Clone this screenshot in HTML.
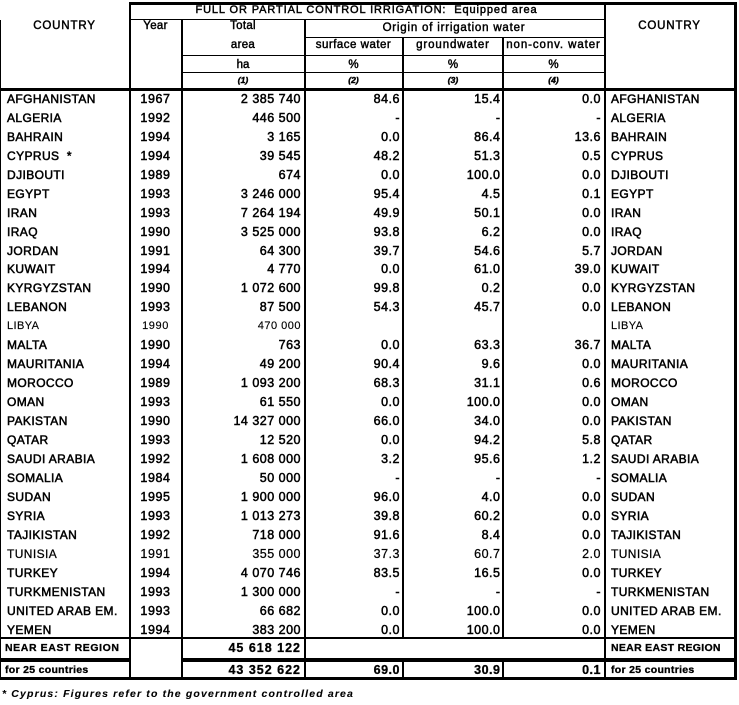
<!DOCTYPE html>
<html><head><meta charset="utf-8">
<style>
html,body{margin:0;padding:0;background:#fff;}
#p{position:relative;width:739px;height:705px;overflow:hidden;background:#fff;font-family:"Liberation Sans",Arial,sans-serif;color:#000;}
.l{position:absolute;background:#000;}
.t{position:absolute;white-space:nowrap;-webkit-text-stroke:0.45px #000;}
.hd{font-size:11.5px;line-height:18px;height:18px;}
.r{position:absolute;left:0;width:739px;height:19px;line-height:19px;font-size:12.5px;}
.r>div{position:absolute;top:0;white-space:nowrap;-webkit-text-stroke:0.5px #000;}
.c0{left:7px;font-size:12px;letter-spacing:.4px;}
.c1{left:130px;width:51px;text-align:center;letter-spacing:.6px;}
.c2{left:183px;width:118px;text-align:right;letter-spacing:.5px;}
.c3{left:305px;width:95px;text-align:right;letter-spacing:.5px;}
.c4{left:405px;width:95.5px;text-align:right;letter-spacing:.5px;}
.c5{left:505px;width:96px;text-align:right;letter-spacing:.5px;}
.c6{left:611px;font-size:12px;letter-spacing:.4px;}
.lt>div{-webkit-text-stroke:0.15px #000;font-size:11px;}
.tb>div{-webkit-text-stroke:0.25px #000;}
.bd>div{font-weight:bold;-webkit-text-stroke:0.3px #000;}
.bd .c0,.bd .c6{font-size:10.5px;letter-spacing:.6px;}
.bd .c2{letter-spacing:1px;}
.it{font-style:italic;font-weight:bold;font-size:8.5px;}
</style></head><body><div id="p">

<!-- horizontal lines -->
<div class="l" style="left:128.5px;top:2px;width:608.5px;height:2.5px"></div>
<div class="l" style="left:128.5px;top:18.5px;width:477px;height:1.5px"></div>
<div class="l" style="left:303.5px;top:36.5px;width:302px;height:1.5px"></div>
<div class="l" style="left:181px;top:54.5px;width:424.5px;height:1.5px"></div>
<div class="l" style="left:181px;top:71.5px;width:424.5px;height:1.5px"></div>
<div class="l" style="left:0;top:87.5px;width:737px;height:3px"></div>
<div class="l" style="left:0;top:636.5px;width:737px;height:2.5px"></div>
<div class="l" style="left:0;top:658px;width:130.5px;height:4px"></div>
<div class="l" style="left:181px;top:658px;width:556px;height:4px"></div>
<div class="l" style="left:0;top:677px;width:737px;height:3px"></div>

<!-- vertical lines -->
<div class="l" style="left:0;top:20px;width:1.3px;height:660px"></div>
<div class="l" style="left:128.5px;top:2px;width:2px;height:678px"></div>
<div class="l" style="left:181px;top:18.5px;width:2px;height:661.5px"></div>
<div class="l" style="left:303.5px;top:18.5px;width:2px;height:661.5px"></div>
<div class="l" style="left:402px;top:36.5px;width:2px;height:600.5px"></div>
<div class="l" style="left:402px;top:661px;width:2px;height:19px"></div>
<div class="l" style="left:502px;top:36.5px;width:2px;height:600.5px"></div>
<div class="l" style="left:502px;top:661px;width:2px;height:19px"></div>
<div class="l" style="left:603.5px;top:2px;width:2px;height:678px"></div>
<div class="l" style="left:734px;top:2px;width:3px;height:678px"></div>

<!-- header text -->
<div class="t hd" style="left:130px;width:473px;top:0.6px;text-align:center;font-size:11px;letter-spacing:.9px">FULL OR PARTIAL CONTROL IRRIGATION:&nbsp; Equipped area</div>
<div class="t hd" style="left:0;width:129px;top:17px;text-align:center;letter-spacing:.85px">COUNTRY</div>
<div class="t hd" style="left:605px;width:129px;top:17px;text-align:center;letter-spacing:.85px">COUNTRY</div>
<div class="t hd" style="left:130px;width:51px;top:17px;text-align:center;letter-spacing:.3px">Year</div>
<div class="t hd" style="left:183px;width:120px;top:17px;text-align:center;letter-spacing:.3px">Total</div>
<div class="t hd" style="left:183px;width:120px;top:35.5px;text-align:center;letter-spacing:.3px">area</div>
<div class="t hd" style="left:305px;width:298px;top:18.6px;text-align:center;letter-spacing:.8px">Origin of irrigation water</div>
<div class="t hd" style="left:305px;width:97px;top:35.5px;text-align:center;letter-spacing:.5px">surface water</div>
<div class="t hd" style="left:404px;width:98px;top:35.5px;text-align:center;letter-spacing:.9px">groundwater</div>
<div class="t hd" style="left:504px;width:99px;top:35.5px;text-align:center;letter-spacing:.9px">non-conv. water</div>
<div class="t hd" style="left:183px;width:120px;top:56px;text-align:center">ha</div>
<div class="t hd" style="left:305px;width:97px;top:56px;text-align:center">%</div>
<div class="t hd" style="left:404px;width:98px;top:56px;text-align:center">%</div>
<div class="t hd" style="left:504px;width:99px;top:56px;text-align:center">%</div>
<div class="t hd it" style="left:183px;width:120px;top:71.1px;text-align:center">(1)</div>
<div class="t hd it" style="left:305px;width:97px;top:71.1px;text-align:center">(2)</div>
<div class="t hd it" style="left:404px;width:98px;top:71.1px;text-align:center">(3)</div>
<div class="t hd it" style="left:504px;width:99px;top:71.1px;text-align:center">(4)</div>

<!-- data rows -->
<div class="r" style="top:89.84px"><div class="c0">AFGHANISTAN</div><div class="c1">1967</div><div class="c2">2 385 740</div><div class="c3">84.6</div><div class="c4">15.4</div><div class="c5">0.0</div><div class="c6">AFGHANISTAN</div></div>
<div class="r" style="top:108.80px"><div class="c0">ALGERIA</div><div class="c1">1992</div><div class="c2">446 500</div><div class="c3">-</div><div class="c4">-</div><div class="c5">-</div><div class="c6">ALGERIA</div></div>
<div class="r" style="top:127.76px"><div class="c0">BAHRAIN</div><div class="c1">1994</div><div class="c2">3 165</div><div class="c3">0.0</div><div class="c4">86.4</div><div class="c5">13.6</div><div class="c6">BAHRAIN</div></div>
<div class="r" style="top:146.72px"><div class="c0">CYPRUS&nbsp; *</div><div class="c1">1994</div><div class="c2">39 545</div><div class="c3">48.2</div><div class="c4">51.3</div><div class="c5">0.5</div><div class="c6">CYPRUS</div></div>
<div class="r" style="top:165.68px"><div class="c0">DJIBOUTI</div><div class="c1">1989</div><div class="c2">674</div><div class="c3">0.0</div><div class="c4">100.0</div><div class="c5">0.0</div><div class="c6">DJIBOUTI</div></div>
<div class="r" style="top:184.64px"><div class="c0">EGYPT</div><div class="c1">1993</div><div class="c2">3 246 000</div><div class="c3">95.4</div><div class="c4">4.5</div><div class="c5">0.1</div><div class="c6">EGYPT</div></div>
<div class="r" style="top:203.60px"><div class="c0">IRAN</div><div class="c1">1993</div><div class="c2">7 264 194</div><div class="c3">49.9</div><div class="c4">50.1</div><div class="c5">0.0</div><div class="c6">IRAN</div></div>
<div class="r" style="top:222.56px"><div class="c0">IRAQ</div><div class="c1">1990</div><div class="c2">3 525 000</div><div class="c3">93.8</div><div class="c4">6.2</div><div class="c5">0.0</div><div class="c6">IRAQ</div></div>
<div class="r" style="top:241.52px"><div class="c0">JORDAN</div><div class="c1">1991</div><div class="c2">64 300</div><div class="c3">39.7</div><div class="c4">54.6</div><div class="c5">5.7</div><div class="c6">JORDAN</div></div>
<div class="r" style="top:260.48px"><div class="c0">KUWAIT</div><div class="c1">1994</div><div class="c2">4 770</div><div class="c3">0.0</div><div class="c4">61.0</div><div class="c5">39.0</div><div class="c6">KUWAIT</div></div>
<div class="r" style="top:279.44px"><div class="c0">KYRGYZSTAN</div><div class="c1">1990</div><div class="c2">1 072 600</div><div class="c3">99.8</div><div class="c4">0.2</div><div class="c5">0.0</div><div class="c6">KYRGYZSTAN</div></div>
<div class="r" style="top:298.40px"><div class="c0">LEBANON</div><div class="c1">1993</div><div class="c2">87 500</div><div class="c3">54.3</div><div class="c4">45.7</div><div class="c5">0.0</div><div class="c6">LEBANON</div></div>
<div class="r lt" style="top:317.36px"><div class="c0">LIBYA</div><div class="c1">1990</div><div class="c2">470 000</div><div class="c6">LIBYA</div></div>
<div class="r" style="top:336.32px"><div class="c0">MALTA</div><div class="c1">1990</div><div class="c2">763</div><div class="c3">0.0</div><div class="c4">63.3</div><div class="c5">36.7</div><div class="c6">MALTA</div></div>
<div class="r" style="top:355.28px"><div class="c0">MAURITANIA</div><div class="c1">1994</div><div class="c2">49 200</div><div class="c3">90.4</div><div class="c4">9.6</div><div class="c5">0.0</div><div class="c6">MAURITANIA</div></div>
<div class="r" style="top:374.24px"><div class="c0">MOROCCO</div><div class="c1">1989</div><div class="c2">1 093 200</div><div class="c3">68.3</div><div class="c4">31.1</div><div class="c5">0.6</div><div class="c6">MOROCCO</div></div>
<div class="r" style="top:393.20px"><div class="c0">OMAN</div><div class="c1">1993</div><div class="c2">61 550</div><div class="c3">0.0</div><div class="c4">100.0</div><div class="c5">0.0</div><div class="c6">OMAN</div></div>
<div class="r" style="top:412.16px"><div class="c0">PAKISTAN</div><div class="c1">1990</div><div class="c2">14 327 000</div><div class="c3">66.0</div><div class="c4">34.0</div><div class="c5">0.0</div><div class="c6">PAKISTAN</div></div>
<div class="r" style="top:431.12px"><div class="c0">QATAR</div><div class="c1">1993</div><div class="c2">12 520</div><div class="c3">0.0</div><div class="c4">94.2</div><div class="c5">5.8</div><div class="c6">QATAR</div></div>
<div class="r" style="top:450.08px"><div class="c0">SAUDI ARABIA</div><div class="c1">1992</div><div class="c2">1 608 000</div><div class="c3">3.2</div><div class="c4">95.6</div><div class="c5">1.2</div><div class="c6">SAUDI ARABIA</div></div>
<div class="r" style="top:469.04px"><div class="c0">SOMALIA</div><div class="c1">1984</div><div class="c2">50 000</div><div class="c3">-</div><div class="c4">-</div><div class="c5">-</div><div class="c6">SOMALIA</div></div>
<div class="r" style="top:488.00px"><div class="c0">SUDAN</div><div class="c1">1995</div><div class="c2">1 900 000</div><div class="c3">96.0</div><div class="c4">4.0</div><div class="c5">0.0</div><div class="c6">SUDAN</div></div>
<div class="r" style="top:506.96px"><div class="c0">SYRIA</div><div class="c1">1993</div><div class="c2">1 013 273</div><div class="c3">39.8</div><div class="c4">60.2</div><div class="c5">0.0</div><div class="c6">SYRIA</div></div>
<div class="r" style="top:525.92px"><div class="c0">TAJIKISTAN</div><div class="c1">1992</div><div class="c2">718 000</div><div class="c3">91.6</div><div class="c4">8.4</div><div class="c5">0.0</div><div class="c6">TAJIKISTAN</div></div>
<div class="r tb" style="top:544.88px"><div class="c0">TUNISIA</div><div class="c1">1991</div><div class="c2">355 000</div><div class="c3">37.3</div><div class="c4">60.7</div><div class="c5">2.0</div><div class="c6">TUNISIA</div></div>
<div class="r" style="top:563.84px"><div class="c0">TURKEY</div><div class="c1">1994</div><div class="c2">4 070 746</div><div class="c3">83.5</div><div class="c4">16.5</div><div class="c5">0.0</div><div class="c6">TURKEY</div></div>
<div class="r" style="top:582.80px"><div class="c0">TURKMENISTAN</div><div class="c1">1993</div><div class="c2">1 300 000</div><div class="c3">-</div><div class="c4">-</div><div class="c5">-</div><div class="c6">TURKMENISTAN</div></div>
<div class="r" style="top:601.76px"><div class="c0">UNITED ARAB EM.</div><div class="c1">1993</div><div class="c2">66 682</div><div class="c3">0.0</div><div class="c4">100.0</div><div class="c5">0.0</div><div class="c6">UNITED ARAB EM.</div></div>
<div class="r" style="top:620.72px"><div class="c0">YEMEN</div><div class="c1">1994</div><div class="c2">383 200</div><div class="c3">0.0</div><div class="c4">100.0</div><div class="c5">0.0</div><div class="c6">YEMEN</div></div>

<!-- totals -->
<div class="r bd" style="top:638.6px"><div class="c0" style="left:5px">NEAR EAST REGION</div><div class="c2">45 618 122</div><div class="c6" style="letter-spacing:.3px">NEAR EAST REGION</div></div>
<div class="r bd" style="top:660.6px"><div class="c0" style="left:5px;letter-spacing:.3px">for 25 countries</div><div class="c2">43 352 622</div><div class="c3">69.0</div><div class="c4">30.9</div><div class="c5">0.1</div><div class="c6" style="letter-spacing:.3px">for 25 countries</div></div>

<!-- footnote -->
<div class="t" style="left:2px;top:687px;font-size:10.5px;line-height:14px;font-style:italic;font-weight:bold;letter-spacing:1.15px;-webkit-text-stroke:0.1px #000">* Cyprus: Figures refer to the government controlled area</div>

</div></body></html>
